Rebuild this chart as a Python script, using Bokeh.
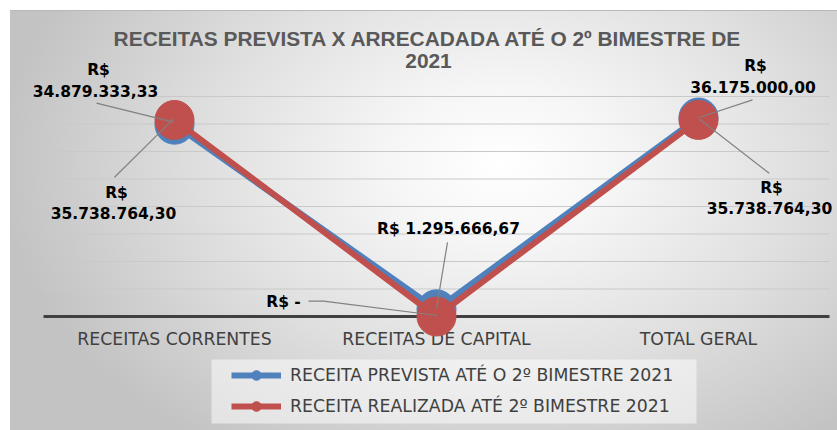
from bokeh.plotting import figure
from bokeh.models import Range1d, Label, Legend, LegendItem, BoxAnnotation
from bokeh.embed import file_html
from bokeh.resources import INLINE

# ---------------- data ----------------
categories = ["RECEITAS CORRENTES", "RECEITAS DE CAPITAL", "TOTAL GERAL"]
prevista = [34879333.33, 1295666.67, 36175000.00]
realizada = [35738764.30, 0.0, 35738764.30]
prevista_labels = ["R$\n34.879.333,33", "R$ 1.295.666,67", "R$\n36.175.000,00"]
realizada_labels = ["R$\n35.738.764,30", "R$ -", "R$\n35.738.764,30"]
series_names = ["RECEITA PREVISTA ATÉ O 2º BIMESTRE 2021",
                "RECEITA REALIZADA ATÉ 2º BIMESTRE 2021"]
title_lines = ["RECEITAS PREVISTA X ARRECADADA ATÉ O 2º BIMESTRE DE", "2021"]
grid_ticks = [5e6, 10e6, 15e6, 20e6, 25e6, 30e6, 35e6, 40e6]

# ---------------- style / layout ----------------
BLUE = "#4f81bd"
RED = "#c0504d"
W, H = 837, 430
X0_PX = 43.0               # left edge of the plotting band
ZERO_PX = 316.0            # pixel row of value 0
PX_PER_X = 262.0           # pixels per category
PX_PER_Y = 5.5 / 1e6       # pixels per value unit


def px2x(px):
    return (px - X0_PX) / PX_PER_X


def px2y(py):
    return (ZERO_PX - py) / PX_PER_Y


xs = [i + 0.5 for i in range(len(categories))]

p = figure(width=W, height=H, x_range=Range1d(px2x(0), px2x(W)),
           y_range=Range1d(px2y(H), px2y(0)),
           output_backend="svg", toolbar_location=None,
           x_axis_location=None, y_axis_location=None,
           min_border_left=0, min_border_right=0, min_border_top=0, min_border_bottom=0)
p.border_fill_color = None
p.background_fill_color = None
p.outline_line_color = None
p.xgrid.visible = False
p.ygrid.visible = False
p.styles = {"background": (
    "linear-gradient(#ffffff,#ffffff) 0 0/100% 10px no-repeat,"
    "linear-gradient(#ffffff,#ffffff) 0 0/10px 100% no-repeat,"
    "linear-gradient(#b8b8b8,#b8b8b8) 0 10px/100% 1px no-repeat,"
    "radial-gradient(ellipse 60% 80% at 60% 38%, #ffffff 0%, #f6f6f6 22%, #dfdfdf 60%, #c3c3c3 100%)")}

# horizontal gridlines across the plotting band, and the zero axis line
band = [0, len(categories)]
p.segment(x0=[band[0]] * len(grid_ticks), x1=[band[1]] * len(grid_ticks),
          y0=grid_ticks, y1=grid_ticks, line_color="#c9c9c9", line_width=1)
p.segment(x0=[band[0]], x1=[band[1]], y0=[0], y1=[0], line_color="#404040", line_width=3)

# category labels under the zero line
p.text(x=xs, y=[0] * len(xs), text=categories, y_offset=22,
       text_align="center", text_baseline="middle",
       text_font={"value": "DejaVu Sans"}, text_font_size="17.3px", text_color="#404040")

# ---------------- series ----------------
lb = p.line(xs, prevista, line_width=6, line_color=BLUE)
sb = p.scatter(xs, prevista, size=39, fill_color=BLUE, line_color=BLUE)
lr = p.line(xs, realizada, line_width=6, line_color=RED)
sr = p.scatter(xs, realizada, size=39, fill_color=RED, line_color=RED)

# ---------------- data labels + leader lines ----------------
# offsets in pixels relative to the point (right, down)
blue_text_off = [[(-76, -55), (-79, -34)], [(12, -80)], [(57, -52), (54.5, -31)]]
blue_leader = [[(-78, -21.5), (-1, -2.5)], [(11, -67), (0, -1)], [(54, -17.7), (0.7, 0)]]
red_text_off = [[(-58, 73), (-61, 93)], [(-153, -15)], [(73, 67.6), (71, 88)]]
red_leader = [[(-60, 57.3), (-1, -1)], [(-128, -15.3), (-113, -15.3), (0.7, -1)],
              [(70.7, 53.3), (0.7, -1)]]

lx, ly = [], []
for vals, labels, toffs, leads in [(prevista, prevista_labels, blue_text_off, blue_leader),
                                   (realizada, realizada_labels, red_text_off, red_leader)]:
    for x, v, lab, offs, lead in zip(xs, vals, labels, toffs, leads):
        for line_txt, (dx, dy) in zip(lab.split("\n"), offs):
            p.add_layout(Label(x=x, y=v, x_offset=dx, y_offset=-dy, text=line_txt,
                               text_align="center", text_baseline="middle",
                               text_font="DejaVu Sans", text_font_style="bold",
                               text_font_size="15.5px", text_color="#000000"))
        lx.append([x + dx / PX_PER_X for dx, dy in lead])
        ly.append([v - dy / PX_PER_Y for dx, dy in lead])
p.multi_line(lx, ly, line_color="#808080", line_width=1.2)

# ---------------- title ----------------
for txt, page_y in zip(title_lines, [38, 60.5]):
    p.add_layout(Label(x=px2x(428), y=px2y(page_y), text=txt,
                       text_align="center", text_baseline="middle",
                       text_font="Liberation Sans", text_font_style="bold",
                       text_font_size="20.9px", text_color="#595959"))

# ---------------- legend ----------------
p.add_layout(BoxAnnotation(left=px2x(211), right=px2x(696), top=px2y(359), bottom=px2y(423),
                           fill_color="#ffffff", fill_alpha=0.5, line_color=None))
legend = Legend(items=[LegendItem(label=series_names[0], renderers=[lb, sb]),
                       LegendItem(label=series_names[1], renderers=[lr, sr])],
                location=(231, H - 418), orientation="vertical", padding=0, margin=0,
                spacing=7, glyph_width=50, glyph_height=24, label_height=24,
                label_standoff=9, border_line_color=None, background_fill_alpha=0,
                label_text_font="DejaVu Sans", label_text_font_size="17.3px",
                label_text_color="#404040")
p.add_layout(legend, "center")

open("out.html", "w").write(file_html(p, INLINE))
